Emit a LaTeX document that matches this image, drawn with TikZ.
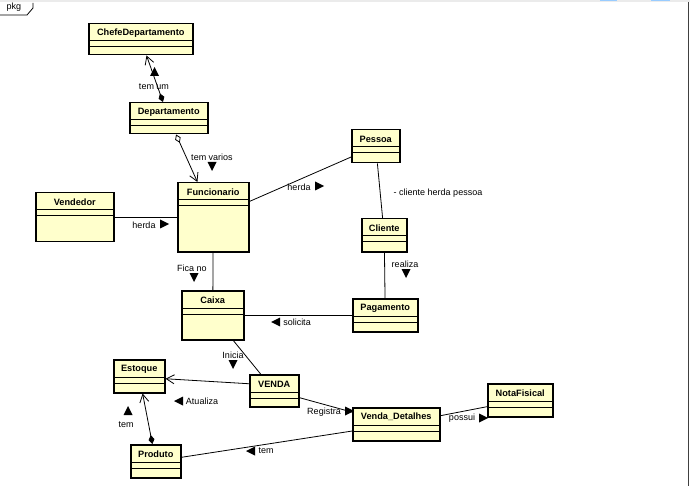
\documentclass[tikz,border=0pt]{standalone}
\usepackage{fontspec}
\setmainfont{Liberation Sans}
\usetikzlibrary{arrows.meta}
\usetikzlibrary{positioning}
\definecolor{umlyellow}{RGB}{255,255,204}
\definecolor{barblue}{RGB}{153,204,255}
\tikzset{classbox/.style = {draw=black, line width=1.5pt, fill=umlyellow,
                            inner sep=0pt, anchor=north west},
         classname/.style = {font=\fontsize{9.2}{10}\selectfont\bfseries, inner sep=0pt},
         lbl/.style = {font=\fontsize{9}{10}\selectfont, inner sep=0pt},
         assoc/.style = {draw=black, line width=0.8pt},
         nav/.style = {-{Straight Barb[length=8pt, width=9pt]}},
         compo/.style = {{Diamond[length=9pt, width=6pt]}-{Straight Barb[length=8pt, width=9pt]}},
         aggr/.style = {{Diamond[open, fill=white, length=9pt, width=6pt]}-{Straight Barb[length=8pt, width=9pt]}}}
% class box: name, x, y, width, height, title
\newcommand{\umlclass}[6]{%
  \node[classbox, minimum width=#4pt, minimum height=#5pt] (#1) at (#2,#3) {};
  \node[classname] (#1-name) at ([yshift=-10.2pt]#1.north) {#6};
  \draw[line width=1pt] ([yshift=-18pt]#1.north west) -- ([yshift=-18pt]#1.north east);
  \draw[line width=1pt] ([yshift=-24pt]#1.north west) -- ([yshift=-24pt]#1.north east);
}
% direction triangles of the association names
\newcommand{\triright}[1]{\fill (#1) +(-4,-4.5) -- +(5,0) -- +(-4,4.5) -- cycle;}
\newcommand{\trileft}[1]{\fill (#1) +(4,-4.5) -- +(-5,0) -- +(4,4.5) -- cycle;}
\newcommand{\triup}[1]{\fill (#1) +(-4.5,4) -- +(0,-5) -- +(4.5,4) -- cycle;}
\newcommand{\tridown}[1]{\fill (#1) +(-4.5,-4) -- +(0,5) -- +(4.5,-4) -- cycle;}

\begin{document}
\begin{tikzpicture}[x=1pt, y=-1pt]
  \useasboundingbox (0,0) rectangle (690,486);
  \fill[white] (0,0) rectangle (690,486);
  % frame
  \fill[black!8] (0,0) rectangle (690,2);
  \fill[barblue] (600,0) rectangle (617,1.3);
  \fill[barblue] (651,0) rectangle (670,1.3);
  \draw[line width=1.5pt, black!75] (688.5,2) -- (688.5,486);
  \draw[line width=0.8pt] (0,15) -- (27,15) -- (33,8) -- (33,3);
  \node[lbl] (pkg) at (14,7.5) {pkg};

  % classes
  \umlclass{Chefe}{88}{23}{104}{31}{ChefeDepartamento}
  \umlclass{Departamento}{129}{102}{78}{31}{Departamento}
  \umlclass{Funcionario}{177}{182}{71}{69}{Funcionario}
  \umlclass{Vendedor}{35}{192}{78}{49}{Vendedor}
  \umlclass{Pessoa}{351}{129}{48}{33}{Pessoa}
  \umlclass{Cliente}{361}{218}{45}{33}{Cliente}
  \umlclass{Caixa}{181}{290}{62}{49}{Caixa}
  \umlclass{Pagamento}{352}{298}{65}{33}{Pagamento}
  \umlclass{Venda}{249}{374}{49}{32}{VENDA}
  \umlclass{Estoque}{113}{359}{51}{33}{Estoque}
  \umlclass{Produto}{130}{444}{50}{33}{Produto}
  \umlclass{Detalhes}{352}{407}{87}{33}{Venda\_Detalhes}
  \umlclass{Nota}{487}{383}{65}{33}{NotaFisical}

  % associations
  \draw[assoc, compo] (Departamento) -- (Chefe);
  \draw[assoc, aggr] (Departamento) -- (Funcionario);
  \draw[assoc] (Vendedor) -- (Funcionario);
  \draw[assoc] (Funcionario) -- (Pessoa);
  \draw[assoc] (Pessoa) -- (Cliente);
  \draw[assoc] (Cliente) -- (Pagamento);
  \draw[assoc] (Funcionario) -- (Caixa);
  \draw[assoc] (Pagamento) -- (Caixa);
  \draw[assoc] (Caixa) -- (Venda);
  \draw[assoc, nav] ([yshift=7pt]Venda.west) -- ([yshift=-2.5pt]Estoque.east);
  \draw[assoc, compo] (Produto) -- (Estoque);
  \draw[assoc] (Venda) -- (Detalhes);
  \draw[assoc] (Produto) -- (Detalhes);
  \draw[assoc] (Detalhes) -- (Nota);

  % association names
  \node[lbl] (temum) at (154,87) {tem um};
  \triup{154.5,72}
  \node[lbl] (temvarios) at (212,157) {tem varios};
  \tridown{212,166}
  \node[lbl] (herdaV) at (144,225) {herda};
  \triright{164,224}
  \node[lbl] (herdaP) at (299,187) {herda};
  \triright{319,186}
  \node[lbl] (clienteherda) at (438,193) {- cliente herda pessoa};
  \node[lbl] (realiza) at (405,264) {realiza};
  \tridown{406,273}
  \node[lbl] (ficano) at (192,268) {Fica no};
  \tridown{194,277}
  \node[lbl] (solicita) at (297,322) {solicita};
  \trileft{276,322}
  \node[lbl] (inicia) at (233,355) {Inicia};
  \tridown{233,364}
  \node[lbl] (atualiza) at (202,401) {Atualiza};
  \trileft{179,401}
  \node[lbl] (temE) at (126,425) {tem};
  \triup{128,411}
  \node[lbl] (registra) at (324,412) {Registra};
  \triright{349,411}
  \node[lbl] (temP) at (266,451) {tem};
  \trileft{251,451}
  \node[lbl] (possui) at (462,418) {possui};
  \triright{483,418}
\end{tikzpicture}
\end{document}
